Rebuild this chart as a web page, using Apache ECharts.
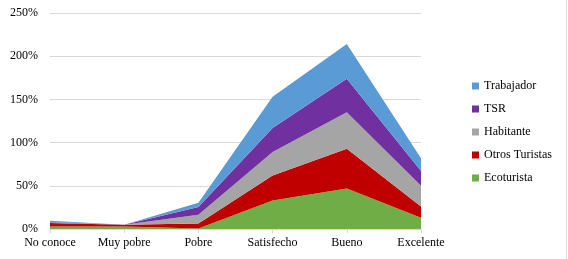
<!DOCTYPE html>
<html>
<head>
<meta charset="utf-8">
<script src="https://cdn.jsdelivr.net/npm/echarts@6/dist/echarts.min.js"></script>
<style>
html, body { margin: 0; padding: 0; background: #fff; }
#chart { width: 568px; height: 259px; }
</style>
</head>
<body>
<div id="chart"></div>
<script>
var categories = ['No conoce', 'Muy pobre', 'Pobre', 'Satisfecho', 'Bueno', 'Excelente'];
var ecoturista = [3, 3, 0.5, 33, 47, 13];
var otrosTuristas = [4, 2, 6, 29, 46, 13];
var habitante = [0.5, 0, 10, 27, 42, 24];
var tsr = [0.5, 0, 9, 28, 39, 17];
var trabajador = [1.5, 0, 5, 36, 40, 15];
var yTicks = [0, 50, 100, 150, 200, 250];

var names = ['Ecoturista', 'Otros Turistas', 'Habitante', 'TSR', 'Trabajador'];
var values = [ecoturista, otrosTuristas, habitante, tsr, trabajador];
var colors = ['#70AD47', '#C00000', '#A5A5A5', '#7030A0', '#5B9BD5'];

var font = 'Times New Roman, serif';

var chart = echarts.init(document.getElementById('chart'));

var series = [];
for (var i = 0; i < names.length; i++) {
    series.push({
        name: names[i],
        type: 'line',
        stack: 'total',
        data: values[i],
        symbol: 'none',
        lineStyle: { width: 0 },
        areaStyle: { color: colors[i], opacity: 1 },
        itemStyle: { color: colors[i] }
    });
}

var option = {
    animation: false,
    textStyle: { fontFamily: font },
    grid: { left: 50, right: 147, top: 13, bottom: 30 },
    legend: {
        orient: 'vertical',
        left: 467,
        top: 75,
        itemWidth: 7,
        itemHeight: 7,
        itemGap: 11,
        icon: 'rect',
        data: names.slice().reverse(),
        textStyle: { fontFamily: font, fontSize: 12, color: '#000' }
    },
    xAxis: {
        type: 'category',
        boundaryGap: false,
        data: categories,
        axisLine: { lineStyle: { color: '#D9D9D9' } },
        axisTick: { show: true, length: 4, lineStyle: { color: '#D9D9D9' } },
        axisLabel: { fontFamily: font, fontSize: 12, color: '#000', margin: 8 }
    },
    yAxis: {
        type: 'value',
        min: yTicks[0],
        max: yTicks[yTicks.length - 1],
        interval: yTicks[1] - yTicks[0],
        axisLine: { show: false },
        axisTick: { show: false },
        splitLine: { lineStyle: { color: '#D9D9D9' } },
        axisLabel: { fontFamily: font, fontSize: 12, color: '#000', margin: 12, formatter: '{value}%' }
    },
    graphic: [{
        type: 'line',
        shape: { x1: 566.5, y1: 0, x2: 566.5, y2: 259 },
        style: { stroke: '#D9D9D9', lineWidth: 1 }
    }],
    series: series
};

chart.setOption(option);

window.addEventListener('resize', function () {
    chart.resize();
});
</script>
</body>
</html>
